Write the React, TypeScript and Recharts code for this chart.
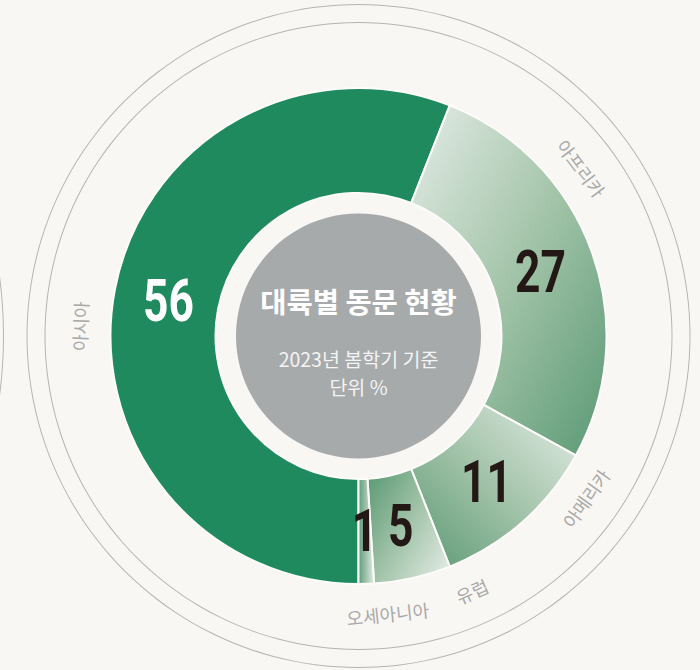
import React from 'react';
import { PieChart, Pie, Cell } from 'recharts';

// ---- data ----
const continents = ['아시아', '아프리카', '아메리카', '유럽', '오세아니아'];
const shares = [56, 27, 11, 5, 1];
const titleText = '대륙별 동문 현황';
const subtitleText = '2023년 봄학기 기준';
const unitText = '단위 %';

const data = continents.map((name, i) => ({ name, share: shares[i] }));
const ringData = [{ v: 1 }];

// ---- layout / styles ----
const BG = '#f9f7f3';
const CX = 358.5;
const CY = 336;
const fills = ['#1f8a5e', 'url(#gAfrica)', 'url(#gAmerica)', 'url(#gEurope)', 'url(#gOceania)'];
const numColors = ['#ffffff', '#231815', '#231815', '#231815', '#231815'];
// placement angles (degrees) for the outer category names, set apart so they do not collide
const nameAngles = [178, 37, -35.5, -66, -84];
const RAD = Math.PI / 180;

function norm(a: number) {
  let t = ((a % 360) + 360) % 360;
  if (t > 180) t -= 360;
  return t;
}

const renderSliceLabels = (props: any) => {
  const { cx, cy, midAngle, innerRadius, outerRadius, index } = props;
  const t = norm(midAngle);
  const rNum = (innerRadius + outerRadius) / 2 - 2;
  const nx = cx + rNum * Math.cos(t * RAD);
  const ny = cy - rNum * Math.sin(t * RAD);
  const a = nameAngles[index];
  const rName = 279;
  const tx = cx + rName * Math.cos(a * RAD);
  const ty = cy - rName * Math.sin(a * RAD);
  const rot = Math.sin(a * RAD) < -0.05 ? -(a + 90) : 90 - a;
  const fs = 60;
  return (
    <g key={`lbl-${index}`}>
      <text
        transform={`translate(${nx},${ny}) scale(0.74,1)`}
        x={0}
        y={fs * 0.355}
        textAnchor="middle"
        fill={numColors[index]}
        fontFamily="Roboto, 'Liberation Sans', sans-serif"
        fontWeight={700}
        fontSize={fs}
      >
        {shares[index]}
      </text>
      <text
        transform={`translate(${tx},${ty}) rotate(${rot})`}
        x={0}
        y={0}
        textAnchor="middle"
        dominantBaseline="central"
        fill="#a9a9a9"
        fontFamily="'Noto Sans CJK KR', 'Noto Sans', sans-serif"
        fontWeight={400}
        fontSize={18}
      >
        {continents[index]}
      </text>
    </g>
  );
};

const renderCenter = (props: any) => {
  const { cx, cy } = props;
  return (
    <g key="center">
      <text
        x={cx}
        y={cy - 35.5}
        textAnchor="middle"
        dominantBaseline="central"
        fill="#ffffff"
        fontFamily="'Noto Sans CJK KR', sans-serif"
        fontWeight={700}
        fontSize={28.5}
      >
        {titleText}
      </text>
      <text
        x={cx}
        y={cy + 22.5}
        textAnchor="middle"
        dominantBaseline="central"
        fill="#f4f4f4"
        fontFamily="'Noto Sans CJK KR', sans-serif"
        fontWeight={400}
        fontSize={19.5}
      >
        {subtitleText}
      </text>
      <text
        x={cx}
        y={cy + 50.5}
        textAnchor="middle"
        dominantBaseline="central"
        fill="#f4f4f4"
        fontFamily="'Noto Sans CJK KR', sans-serif"
        fontWeight={400}
        fontSize={19.5}
      >
        {unitText}
      </text>
    </g>
  );
};

export default function App() {
  return (
    <div style={{ position: 'fixed', left: 0, top: 0, width: 700, height: 670, background: BG, overflow: 'hidden' }}>
      <PieChart width={700} height={670} margin={{ top: 0, right: 0, bottom: 0, left: 0 }}>
        <defs>
          <linearGradient id="gAfrica" x1="0" y1="0" x2="1" y2="1">
            <stop offset="0" stopColor="#e4ece6" />
            <stop offset="0.5" stopColor="#a3c4a9" />
            <stop offset="1" stopColor="#5a9974" />
          </linearGradient>
          <linearGradient id="gAmerica" x1="1" y1="0" x2="0" y2="1">
            <stop offset="0" stopColor="#e4ede6" />
            <stop offset="0.5" stopColor="#a2c3a9" />
            <stop offset="1" stopColor="#5a9873" />
          </linearGradient>
          <linearGradient id="gEurope" x1="0" y1="0.1" x2="1" y2="0.9">
            <stop offset="0" stopColor="#5e9b76" />
            <stop offset="0.5" stopColor="#a3c4aa" />
            <stop offset="1" stopColor="#e2ebe4" />
          </linearGradient>
          <linearGradient id="gOceania" x1="0" y1="0.5" x2="1" y2="0.5">
            <stop offset="0" stopColor="#5f9c77" />
            <stop offset="1" stopColor="#e3ece5" />
          </linearGradient>
        </defs>
        {/* decorative outer rings */}
        <Pie data={ringData} dataKey="v" cx={CX} cy={CY} innerRadius={331} outerRadius={332} fill="#b5b5b5" stroke="none" isAnimationActive={false} />
        <Pie data={ringData} dataKey="v" cx={CX} cy={CY} innerRadius={313} outerRadius={314} fill="#b5b5b5" stroke="none" isAnimationActive={false} />
        <Pie data={ringData} dataKey="v" cx={-447} cy={CY} innerRadius={450} outerRadius={451} fill="#b5b5b5" stroke="none" isAnimationActive={false} />
        {/* grey centre disc */}
        <Pie
          data={ringData}
          dataKey="v"
          cx={CX}
          cy={CY}
          innerRadius={0}
          outerRadius={122.5}
          fill="#a7aaab"
          stroke="none"
          isAnimationActive={false}
          label={renderCenter}
          labelLine={false}
        />
        {/* main donut */}
        <Pie
          data={data}
          dataKey="share"
          nameKey="name"
          cx={CX}
          cy={CY}
          innerRadius={143}
          outerRadius={248}
          startAngle={-90}
          endAngle={-450}
          stroke="#fdfcfa"
          strokeWidth={2}
          isAnimationActive={false}
          label={renderSliceLabels}
          labelLine={false}
        >
          {data.map((d, i) => (
            <Cell key={d.name} fill={fills[i]} />
          ))}
        </Pie>
      </PieChart>
    </div>
  );
}
